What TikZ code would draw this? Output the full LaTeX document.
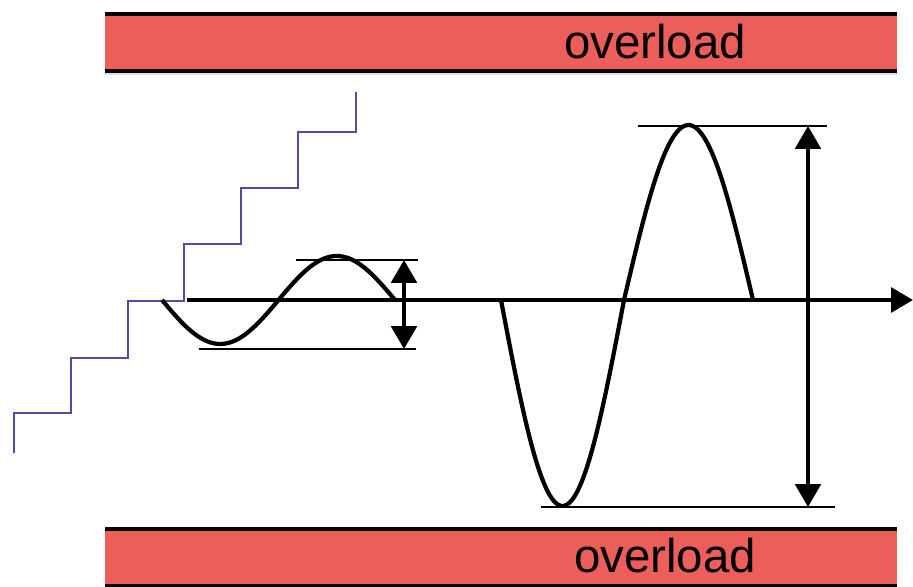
\documentclass[tikz,border=0pt]{standalone}
\usepackage{fontspec}
\setmainfont{Liberation Sans}
\usetikzlibrary{arrows.meta, shadows}
\definecolor{overred}{RGB}{236,94,89}
\definecolor{stairblue}{RGB}{78,78,165}
\tikzset{
  bar/.style={fill=overred, draw=none, drop shadow={shadow xshift=0pt, shadow yshift=-2.5pt, opacity=0.25}},
  barline/.style={line width=2.3pt, draw=black},
  barlabel/.style={inner sep=0pt, font=\fontsize{27}{27}\selectfont},
  axisline/.style={line width=2.4pt, -{Triangle[length=12.5pt, width=14pt]}},
  wave/.style={line width=2.4pt, smooth, line join=round},
  refline/.style={line width=0.9pt},
  dimarrow/.style={line width=2.1pt, {Triangle[length=13pt, width=14.5pt]}-{Triangle[length=13pt, width=14.5pt]}},
  stairs/.style={line width=1.7pt, draw=stairblue},
}
\begin{document}
\begin{tikzpicture}[x=0.02cm, y=-0.02cm]
  \useasboundingbox (0,0) rectangle (913,587);

  \fill[bar] (105,14) rectangle (897,71);
  \draw[barline] (105,14) -- (897,14);
  \draw[barline] (105,71) -- (897,71);
  \node[barlabel] (topload) at (655,42) {overload};

  \fill[bar] (105,529) rectangle (897,586);
  \draw[barline] (105,529) -- (897,529);
  \draw[barline] (105,586) -- (897,586);
  \node[barlabel] (botload) at (665,556) {overload};

  \draw[stairs] (14,453) -- (14,413) -- (71,413) -- (71,358) -- (128,358) -- (128,301)
    -- (184,301) -- (184,244) -- (241,244) -- (241,188) -- (298,188) -- (298,132)
    -- (356,132) -- (356,92);

  \coordinate (origin) at (187,300);
  \coordinate (tip) at (913,300);
  \draw[axisline] (origin) -- (tip);

  \draw[wave, samples=50, domain=162:395] plot (\x, {300+44*sin(360/233*(\x-162))});
  \coordinate (smalltop) at (404,260);
  \coordinate (smallbot) at (404,349);
  \draw[refline] (296,260) -- (418,260);
  \draw[refline] (199,349) -- (416,349);
  \draw[dimarrow] (smalltop) -- (smallbot);

  \draw[wave, samples=50, domain=501:624] plot (\x, {300+206*sin(180/123*(\x-501))});
  \draw[wave, samples=50, domain=624:753] plot (\x, {300-175*sin(180/129*(\x-624))});
  \coordinate (bigtop) at (808,126);
  \coordinate (bigbot) at (808,507);
  \draw[refline] (638,126) -- (827,126);
  \draw[refline] (541,507) -- (835,507);
  \draw[dimarrow] (bigtop) -- (bigbot);
\end{tikzpicture}
\end{document}
